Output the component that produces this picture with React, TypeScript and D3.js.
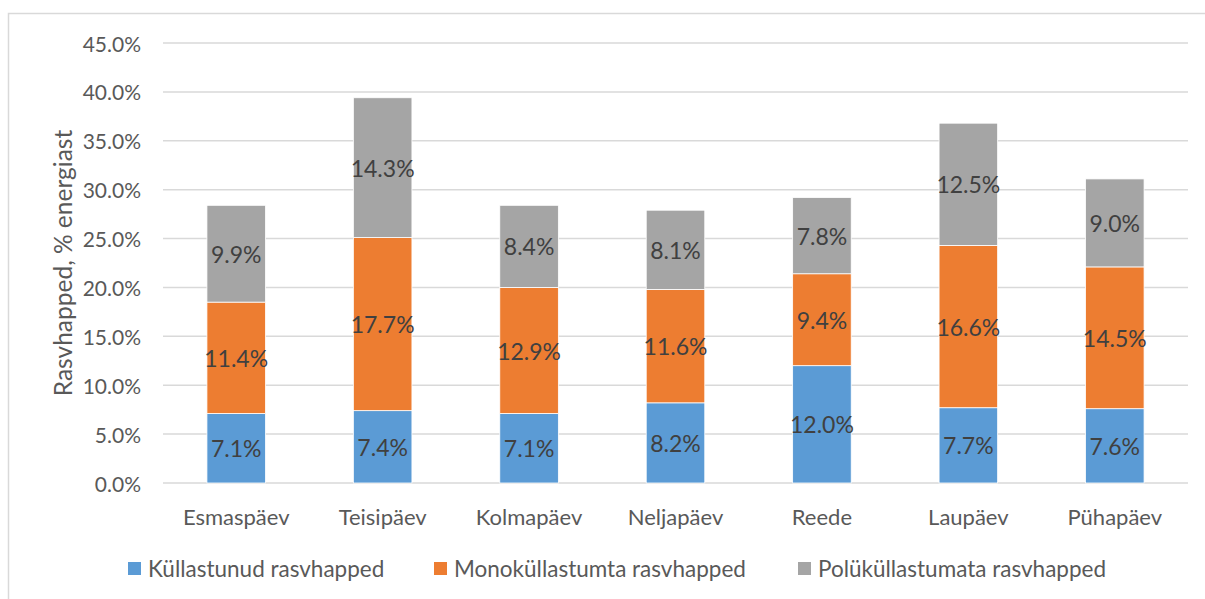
import React, { useRef, useEffect } from 'react'
import * as d3 from 'd3'

// chart data
const days = ['Esmaspäev', 'Teisipäev', 'Kolmapäev', 'Neljapäev', 'Reede', 'Laupäev', 'Pühapäev']
const saturated = [7.1, 7.4, 7.1, 8.2, 12.0, 7.7, 7.6]
const mono = [11.4, 17.7, 12.9, 11.6, 9.4, 16.6, 14.5]
const poly = [9.9, 14.3, 8.4, 8.1, 7.8, 12.5, 9.0]
const seriesNames = ['Küllastunud rasvhapped', 'Monoküllastumta rasvhapped', 'Polüküllastumata rasvhapped']
const yTicks = [0, 5, 10, 15, 20, 25, 30, 35, 40, 45]

const colors = ['#5B9BD5', '#ED7D31', '#A5A5A5']
const font = 'Lato, "Open Sans", sans-serif'

const App = () => {
  const ref = useRef<SVGSVGElement>(null)

  useEffect(() => {
    const svg = d3.select(ref.current)
    svg.selectAll('*').remove()

    const left = 163, right = 1188, top = 43, bottom = 483

    const x = d3.scaleBand().domain(days).range([left, right]).paddingInner(0.6).paddingOuter(0.3)
    const y = d3.scaleLinear().domain([0, 45]).range([bottom, top])

    // outer border
    svg.append('rect')
      .attr('x', 8.5).attr('y', 13.5)
      .attr('width', 1300).attr('height', 700)
      .attr('fill', 'none').attr('stroke', '#D9D9D9').attr('stroke-width', 1.5)

    // gridlines
    svg.append('g').selectAll('line').data(yTicks).enter().append('line')
      .attr('x1', left).attr('x2', right)
      .attr('y1', d => y(d)).attr('y2', d => y(d))
      .attr('stroke', '#D9D9D9').attr('stroke-width', 1.5)

    // y tick labels
    svg.append('g').selectAll('text').data(yTicks).enter().append('text')
      .attr('x', 141).attr('y', d => y(d))
      .attr('text-anchor', 'end').attr('dominant-baseline', 'central')
      .attr('font-family', font).attr('font-size', 21).attr('fill', '#595959')
      .text(d => d.toFixed(1) + '%')

    // axis title
    svg.append('text')
      .attr('transform', `translate(62,${(top + bottom) / 2}) rotate(-90)`)
      .attr('text-anchor', 'middle').attr('dominant-baseline', 'central')
      .attr('font-family', font).attr('font-size', 24.5).attr('fill', '#595959')
      .text('Rasvhapped, % energiast')

    const rows = days.map((d, i) => ({ day: d, s0: saturated[i], s1: mono[i], s2: poly[i] }))
    const stacked = d3.stack<any>().keys(['s0', 's1', 's2'])(rows)

    stacked.forEach((layer, li) => {
      const g = svg.append('g')
      g.selectAll('rect').data(layer).enter().append('rect')
        .attr('x', d => x(d.data.day)!)
        .attr('width', x.bandwidth())
        .attr('y', d => y(d[1]))
        .attr('height', d => y(d[0]) - y(d[1]))
        .attr('fill', colors[li])
        .attr('stroke', '#fff').attr('stroke-width', 0.8)
      g.selectAll('text').data(layer).enter().append('text')
        .attr('x', d => x(d.data.day)! + x.bandwidth() / 2)
        .attr('y', d => (y(d[0]) + y(d[1])) / 2)
        .attr('text-anchor', 'middle').attr('dominant-baseline', 'central')
        .attr('font-family', font).attr('font-size', 23).attr('fill', '#404040')
        .text(d => (d[1] - d[0]).toFixed(1) + '%')
    })

    // x labels
    svg.append('g').selectAll('text').data(days).enter().append('text')
      .attr('x', d => x(d)! + x.bandwidth() / 2).attr('y', 516)
      .attr('text-anchor', 'middle').attr('dominant-baseline', 'central')
      .attr('font-family', font).attr('font-size', 22).attr('fill', '#595959')
      .text(d => d)

    // legend
    const legendX = [128, 434, 798]
    const lg = svg.append('g')
    seriesNames.forEach((name, i) => {
      lg.append('rect')
        .attr('x', legendX[i]).attr('y', 562).attr('width', 13).attr('height', 13)
        .attr('fill', colors[i])
      lg.append('text')
        .attr('x', legendX[i] + 20).attr('y', 568)
        .attr('dominant-baseline', 'central')
        .attr('font-family', font).attr('font-size', 22.5).attr('fill', '#595959')
        .text(name)
    })
  }, [])

  return (
    <svg ref={ref} width={1205} height={599}
      style={{ position: 'absolute', left: 0, top: 0, background: '#fff' }} />
  )
}

export default App
